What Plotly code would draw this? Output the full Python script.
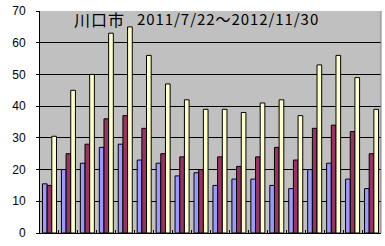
import plotly.graph_objects as go

groups = [str(i) for i in range(1, 19)]
series_a = [15.5, 20, 22, 27, 28, 23, 22, 18, 19, 15, 17, 17, 15, 14, 20, 22, 17, 14]
series_b = [15, 25, 28, 36, 37, 33, 25, 24, 20, 24, 21, 24, 27, 23, 33, 34, 32, 25]
series_c = [30.5, 45, 50, 63, 65, 56, 47, 42, 39, 39, 38, 41, 42, 37, 53, 56, 49, 39]
colors = ["#9999FF", "#993366", "#FFFFCC"]
title_place = "川口市"
title_dates = "2011/7/22～2012/11/30"

fig = go.Figure()
for vals, c in zip([series_a, series_b, series_c], colors):
    fig.add_trace(go.Bar(x=groups, y=vals, marker=dict(color=c, line=dict(color="black", width=1))))

hs = "\u200a"
fig.add_annotation(text=hs.join(title_place), xref="paper", yref="paper", x=0.095, y=1.0,
                   xanchor="left", yanchor="top", showarrow=False, yshift=6,
                   font=dict(family="Noto Sans CJK JP", size=16, color="black"))
fig.add_annotation(text=hs.join(title_dates), xref="paper", yref="paper", x=0.28, y=1.0,
                   xanchor="left", yanchor="top", showarrow=False, yshift=5,
                   font=dict(family="Noto Sans CJK JP", size=15, color="black"))

fig.add_shape(type="line", xref="paper", yref="paper", x0=1, x1=1, y0=0, y1=1,
              line=dict(color="#808080", width=1), layer="above")

fig.update_layout(
    width=385, height=246, margin=dict(l=40, r=4, t=7, b=13),
    paper_bgcolor="white", plot_bgcolor="#C0C0C0",
    barmode="group", bargap=0.26, bargroupgap=0, showlegend=False,
)
fig.update_xaxes(type="category", showline=True, linecolor="black", linewidth=1,
                 showticklabels=False, ticks="inside", ticklen=3, tickcolor="black",
                 tickson="boundaries", showgrid=False)
fig.update_yaxes(range=[0, 70], dtick=10, showline=True, linecolor="black", linewidth=1,
                 gridcolor="black", gridwidth=1, ticks="outside", ticklen=3, tickcolor="black",
                 ticklabelstandoff=8, zeroline=False,
                 tickfont=dict(family="Liberation Sans", size=12, color="black"))
fig.write_html("out.html")
